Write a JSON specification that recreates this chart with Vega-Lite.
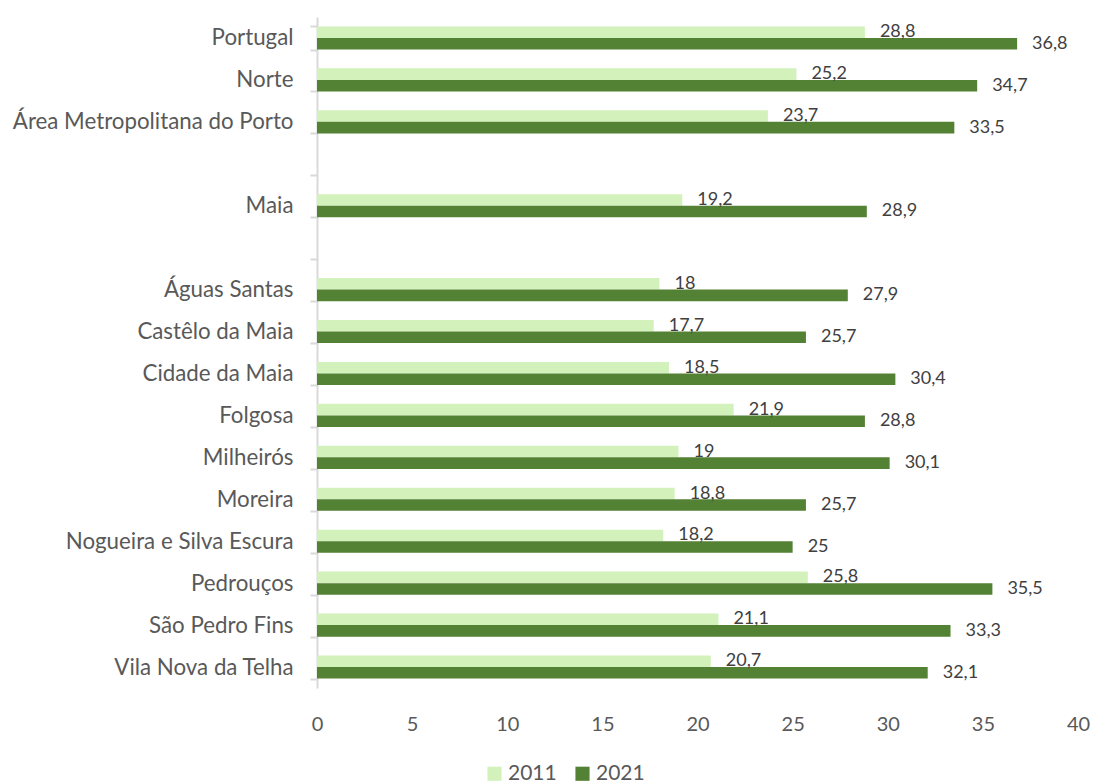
{
  "$schema": "https://vega.github.io/schema/vega-lite/v6.json",
  "autosize": "none",
  "width": 761,
  "height": 671,
  "padding": {"left": 317, "top": 17, "right": 18, "bottom": 95},
  "background": "white",
  "config": {
    "view": {"stroke": null},
    "font": "Lato",
    "locale": {"number": {"decimal": ",", "thousands": ".", "grouping": [3], "currency": ["", " €"]}}
  },
  "data": {
    "values": [
      {"cat": "Portugal", "year": "2011", "value": 28.8},
      {"cat": "Portugal", "year": "2021", "value": 36.8},
      {"cat": "Norte", "year": "2011", "value": 25.2},
      {"cat": "Norte", "year": "2021", "value": 34.7},
      {"cat": "Área Metropolitana do Porto", "year": "2011", "value": 23.7},
      {"cat": "Área Metropolitana do Porto", "year": "2021", "value": 33.5},
      {"cat": "Maia", "year": "2011", "value": 19.2},
      {"cat": "Maia", "year": "2021", "value": 28.9},
      {"cat": "Águas Santas", "year": "2011", "value": 18},
      {"cat": "Águas Santas", "year": "2021", "value": 27.9},
      {"cat": "Castêlo da Maia", "year": "2011", "value": 17.7},
      {"cat": "Castêlo da Maia", "year": "2021", "value": 25.7},
      {"cat": "Cidade da Maia", "year": "2011", "value": 18.5},
      {"cat": "Cidade da Maia", "year": "2021", "value": 30.4},
      {"cat": "Folgosa", "year": "2011", "value": 21.9},
      {"cat": "Folgosa", "year": "2021", "value": 28.8},
      {"cat": "Milheirós", "year": "2011", "value": 19},
      {"cat": "Milheirós", "year": "2021", "value": 30.1},
      {"cat": "Moreira", "year": "2011", "value": 18.8},
      {"cat": "Moreira", "year": "2021", "value": 25.7},
      {"cat": "Nogueira e Silva Escura", "year": "2011", "value": 18.2},
      {"cat": "Nogueira e Silva Escura", "year": "2021", "value": 25},
      {"cat": "Pedrouços", "year": "2011", "value": 25.8},
      {"cat": "Pedrouços", "year": "2021", "value": 35.5},
      {"cat": "São Pedro Fins", "year": "2011", "value": 21.1},
      {"cat": "São Pedro Fins", "year": "2021", "value": 33.3},
      {"cat": "Vila Nova da Telha", "year": "2011", "value": 20.7},
      {"cat": "Vila Nova da Telha", "year": "2021", "value": 32.1}
    ]
  },
  "encoding": {
    "y": {
      "field": "cat",
      "type": "nominal",
      "title": null,
      "scale": {
        "domain": ["Portugal", "Norte", "Área Metropolitana do Porto", " ", "Maia", "  ", "Águas Santas", "Castêlo da Maia", "Cidade da Maia", "Folgosa", "Milheirós", "Moreira", "Nogueira e Silva Escura", "Pedrouços", "São Pedro Fins", "Vila Nova da Telha"],
        "paddingInner": 0.45,
        "paddingOuter": 0.225
      },
      "axis": {
        "tickBand": "extent",
        "tickColor": "#d9d9d9",
        "tickWidth": 2,
        "tickSize": 7,
        "domainColor": "#d9d9d9",
        "domainWidth": 2,
        "labelFontSize": 22.3,
        "labelColor": "#595959",
        "labelPadding": 17,
        "labelLimit": 0,
        "labelFont": "Lato"
      }
    },
    "yOffset": {"field": "year", "type": "nominal", "scale": {"paddingInner": 0}},
    "x": {
      "field": "value",
      "type": "quantitative",
      "title": null,
      "scale": {"domain": [0, 40], "nice": false},
      "axis": {
        "values": [0, 5, 10, 15, 20, 25, 30, 35, 40],
        "grid": false,
        "domain": false,
        "ticks": false,
        "labelFlush": false,
        "labelFontSize": 20,
        "labelColor": "#595959",
        "labelPadding": 26,
        "labelFont": "Lato"
      }
    }
  },
  "layer": [
    {
      "mark": {"type": "bar"},
      "encoding": {
        "color": {
          "field": "year",
          "type": "nominal",
          "scale": {"domain": ["2011", "2021"], "range": ["#d3f2bb", "#548235"]},
          "legend": {
            "title": null,
            "orient": "none",
            "direction": "horizontal",
            "legendX": 167,
            "legendY": 746,
            "symbolType": "square",
            "symbolSize": 200,
            "symbolStrokeWidth": 0,
            "labelFontSize": 21,
            "labelColor": "#595959",
            "labelFont": "Lato",
            "columnPadding": 15,
            "labelOffset": 3
          }
        }
      }
    },
    {
      "mark": {"type": "text", "align": "left", "baseline": "middle", "dx": 15, "fontSize": 18, "color": "#404040", "font": "Lato"},
      "encoding": {
        "text": {"field": "value", "type": "quantitative", "format": ".1~f"}
      }
    }
  ]
}
